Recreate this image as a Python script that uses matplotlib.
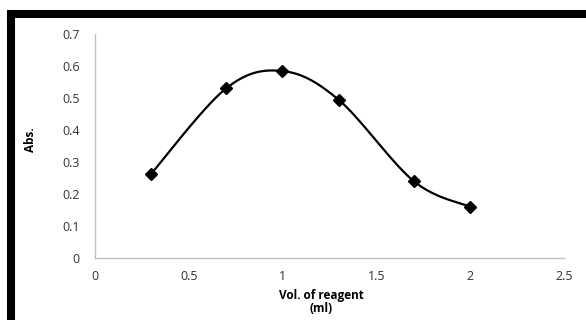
import numpy as np
import matplotlib.pyplot as plt
from matplotlib.lines import Line2D

# --- date ---
vol = [0.3, 0.7, 1.0, 1.3, 1.7, 2.0]
absorb = [0.263, 0.530, 0.584, 0.494, 0.240, 0.160]

x_ticks = [0, 0.5, 1, 1.5, 2, 2.5]
y_ticks = [0, 0.1, 0.2, 0.3, 0.4, 0.5, 0.6, 0.7]

plt.rcParams['font.family'] = ['Open Sans', 'DejaVu Sans']


def smooth_curve(xs, ys, n=40):
    # Catmull-Rom, ca linia "smoothed" din Excel
    p = np.column_stack([xs, ys])
    p = np.vstack([p[0], p, p[-1]])
    out = []
    for i in range(1, len(p) - 2):
        p0, p1, p2, p3 = p[i - 1], p[i], p[i + 1], p[i + 2]
        t = np.linspace(0, 1, n)[:, None]
        seg = 0.5 * ((2 * p1) + (-p0 + p2) * t
                     + (2 * p0 - 5 * p1 + 4 * p2 - p3) * t ** 2
                     + (-p0 + 3 * p1 - 3 * p2 + p3) * t ** 3)
        out.append(seg)
    out = np.vstack(out)
    return out[:, 0], out[:, 1]


fig = plt.figure(figsize=(5.86, 3.2), dpi=100)
ax = fig.add_axes([0.162, 0.194, 0.800, 0.700])

sx, sy = smooth_curve(vol, absorb)
ax.plot(sx, sy, color='black', lw=1.6)
ax.plot(vol, absorb, linestyle='none', marker='D', markersize=6.5,
        color='black')

ax.set_xlim(0, 2.5)
ax.set_ylim(0, 0.7)
ax.set_xticks(x_ticks)
ax.set_xticklabels([f"{v:g}" for v in x_ticks])
ax.set_yticks(y_ticks)
ax.set_yticklabels([f"{v:g}" for v in y_ticks])
ax.tick_params(length=0, labelsize=9, colors='#333333')
ax.tick_params(axis='x', pad=9)
ax.tick_params(axis='y', pad=11)

for s in ['top', 'right']:
    ax.spines[s].set_visible(False)
for s in ['left', 'bottom']:
    ax.spines[s].set_color('#bfbfbf')
    ax.spines[s].set_linewidth(1.0)

fig.text(30 / 586, 1 - 140 / 320, "Abs.", rotation=90, fontsize=8.5,
         fontweight='bold', ha='center', va='center')
fig.text(321 / 586, 1 - 302 / 320, "Vol. of reagent\n(ml)", fontsize=8.5,
         fontweight='bold', ha='center', va='center', linespacing=1.05)

# --- chenar negru (sus si stanga) ---
fig.add_artist(Line2D([11 / 586, 1.02], [1 - 14 / 320, 1 - 14 / 320],
                      transform=fig.transFigure, color='black', lw=5.8,
                      solid_capstyle='projecting'))
fig.add_artist(Line2D([11 / 586, 11 / 586], [1 - 14 / 320, -0.05],
                      transform=fig.transFigure, color='black', lw=5.8,
                      solid_capstyle='projecting'))

fig.savefig("out.png", dpi=100)
